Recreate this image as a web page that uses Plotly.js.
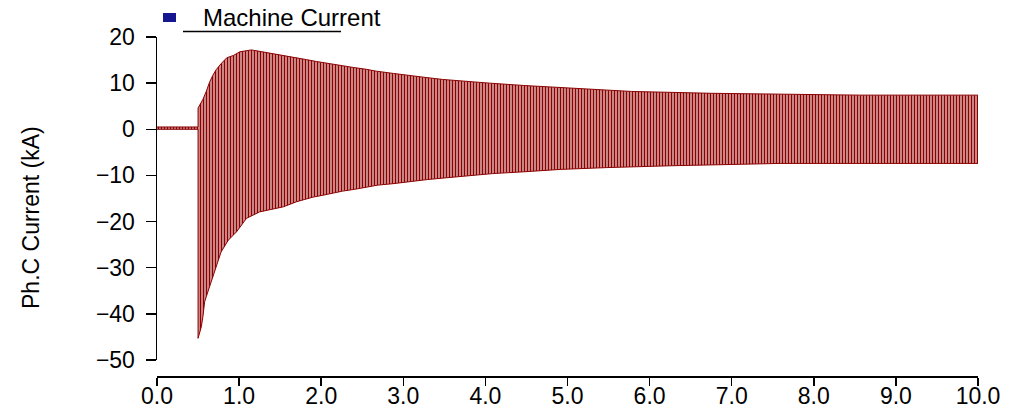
<!DOCTYPE html>
<html>
<head>
<meta charset="utf-8">
<script src="https://cdn.plot.ly/plotly-3.0.1.min.js"></script>
<style>html,body{margin:0;padding:0;background:#fff;}#chart{width:1030px;height:416px;}</style>
</head>
<body>
<div id="chart"></div>
<script>
// Envelope of the machine phase C current (kA)
const upperTime = [0, 0.5, 0.5, 0.56, 0.60, 0.64, 0.68, 0.72, 0.78, 0.85, 0.93, 1.01, 1.15, 1.25, 1.43, 1.56, 1.68, 1.82, 1.94, 2.10, 2.27, 2.39, 2.55, 2.67, 2.88, 3.04, 3.24, 3.48, 3.73, 4.05, 4.46, 4.87, 5.19, 5.78, 6.75, 8.56, 10.0];
const upperPeak = [0.5, 0.5, 4.6, 6.5, 8.2, 10.2, 11.7, 12.9, 14.2, 15.5, 16.0, 16.8, 17.2, 16.9, 16.4, 16.0, 15.6, 15.1, 14.7, 14.2, 13.8, 13.4, 13.0, 12.6, 12.1, 11.7, 11.3, 10.8, 10.4, 10.0, 9.5, 9.1, 8.7, 8.2, 7.8, 7.4, 7.4];
const lowerTime = [0, 0.5, 0.5, 0.54, 0.56, 0.58, 0.60, 0.66, 0.72, 0.78, 0.87, 0.97, 1.09, 1.25, 1.54, 1.70, 1.80, 1.90, 2.02, 2.14, 2.26, 2.41, 2.55, 2.69, 2.87, 3.04, 3.29, 3.53, 3.81, 4.09, 4.48, 4.91, 5.48, 6.27, 7.59, 10.0];
const lowerPeak = [0.0, 0.0, -45.3, -42.8, -40.5, -37.4, -36.3, -33.0, -29.8, -26.6, -24.0, -22.2, -19.3, -17.9, -16.8, -15.7, -15.2, -14.7, -14.3, -13.8, -13.4, -13.0, -12.6, -12.1, -11.8, -11.4, -10.9, -10.5, -10.0, -9.6, -9.2, -8.7, -8.3, -7.9, -7.4, -7.4];
const seriesName = "Machine Current";
const yTitle = "Ph.C Current (kA)";
const xTicks = [0, 1, 2, 3, 4, 5, 6, 7, 8, 9, 10];
const yTicks = [-50, -40, -30, -20, -10, 0, 10, 20];

const W = 1030, H = 416, ML = 157, MR = 52, MT = 37, MB = 40;
const PW = W - ML - MR, PH = H - MT - MB;
const px = X => (X - ML) / PW;
const py = Y => (H - MB - Y) / PH;
const FONT = "Liberation Sans, Arial, sans-serif";
const RED = "#8b0000";

const traces = [
  {x: upperTime, y: upperPeak, type: "scatter", mode: "lines", name: seriesName,
   line: {color: RED, width: 1}, showlegend: false, hoverinfo: "skip"},
  {x: lowerTime, y: lowerPeak, type: "scatter", mode: "lines", name: seriesName,
   line: {color: RED, width: 1}, fill: "tonexty",
   fillpattern: {shape: "|", fgcolor: RED, bgcolor: "#e9c4c4", size: 3, solidity: 0.55, fillmode: "replace"},
   showlegend: false, hoverinfo: "skip"}
];

const layout = {
  width: W, height: H,
  margin: {l: ML, r: MR, t: MT, b: MB, pad: 0},
  paper_bgcolor: "#fff", plot_bgcolor: "#fff",
  font: {family: FONT, size: 23, color: "#000"},
  showlegend: false,
  xaxis: {
    range: [0, 10], tickvals: xTicks, tickformat: ".1f",
    showline: true, linecolor: "#000", linewidth: 1.5,
    ticks: "outside", ticklen: 8, tickwidth: 1.5, tickcolor: "#000",
    showgrid: false, zeroline: false, anchor: "free", position: 0,
    ticklabelstandoff: -9, tickfont: {family: FONT, size: 23, color: "#000"}
  },
  yaxis: {
    range: [-50, 20], tickvals: yTicks, domain: [16 / PH, 1],
    showline: true, linecolor: "#000", linewidth: 1.5,
    ticks: "outside", ticklen: 10, tickwidth: 1.5, tickcolor: "#000",
    showgrid: false, zeroline: false,
    ticklabelstandoff: 6, tickfont: {family: FONT, size: 23, color: "#000"}
  },
  shapes: [
    {type: "rect", xref: "paper", yref: "paper", x0: px(163), x1: px(176), y0: py(22), y1: py(13),
     fillcolor: "#161690", line: {width: 0}},
    {type: "line", xref: "paper", yref: "paper", x0: px(183), x1: px(341), y0: py(31.5), y1: py(31.5),
     line: {color: "#000", width: 1.5}}
  ],
  annotations: [
    {text: seriesName, xref: "paper", yref: "paper", x: px(201), y: py(18), xanchor: "left", yanchor: "middle",
     showarrow: false, font: {family: FONT, size: 24, color: "#000"}},
    {text: yTitle, xref: "paper", yref: "paper", x: px(31), y: py(218), xanchor: "center", yanchor: "middle",
     textangle: -90, showarrow: false, font: {family: FONT, size: 23, color: "#000"}}
  ]
};

Plotly.newPlot("chart", traces, layout, {staticPlot: true, displayModeBar: false});
</script>
</body>
</html>
